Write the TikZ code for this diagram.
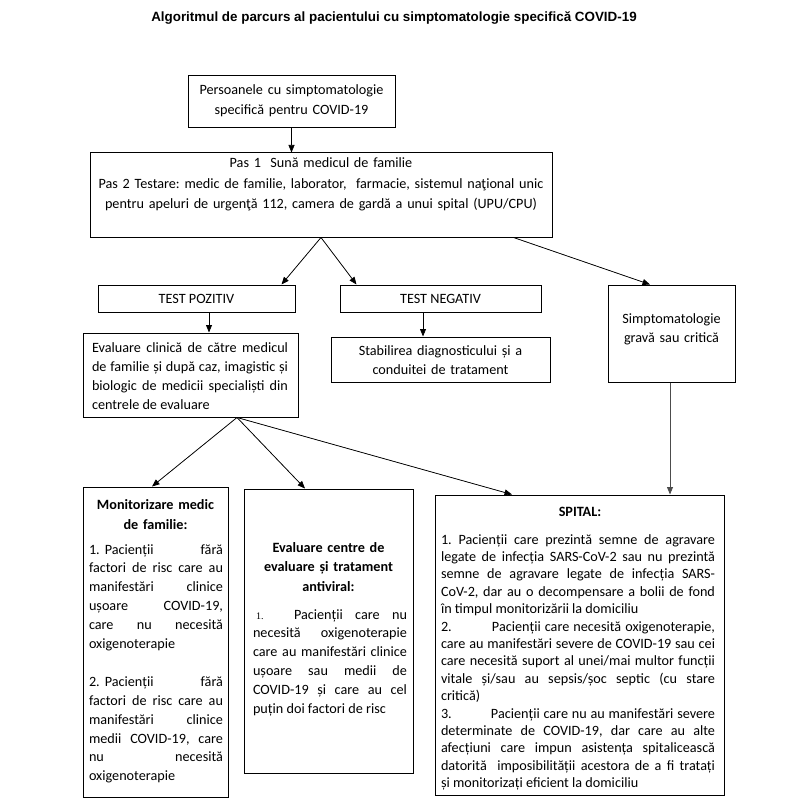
\documentclass[tikz,border=0pt]{standalone}
\usepackage{fontspec}
\setmainfont{Carlito}
\newfontfamily\arialfont{Liberation Sans}
\newfontfamily\timesfont{Liberation Serif}
\usetikzlibrary{arrows.meta,calc}
\frenchspacing
\begin{document}
\begin{tikzpicture}[x=1pt,y=-1pt,
  box/.style={draw=black, line width=1pt, fill=white, inner sep=0pt},
  txt/.style={inner sep=0pt, anchor=base, font=\fontsize{14.2}{19}\selectfont,
    execute at begin node={\tolerance=10000\hbadness=10000\frenchspacing\relax}},
  head/.style={txt, align=center, font=\bfseries\fontsize{14.2}{19.5}\selectfont},
  arr/.style={-{Triangle[length=7.5pt,width=6pt]}, line width=0.75pt, draw=black, fill=black}]
\useasboundingbox (0,0) rectangle (790,810);
\fill[white] (0,0) rectangle (790,810);

% title
\node[inner sep=0pt, anchor=base, font=\arialfont\bfseries\fontsize{13.4}{16}\selectfont] (title) at (394,22)
  {Algoritmul de parcurs al pacientului cu simptomatologie specifică COVID-19};

% boxes
\node[box, minimum width=207pt, minimum height=52pt] (b1) at (291.5,102) {};
\node[box, minimum width=462pt, minimum height=84pt] (b2) at (321,195) {};
\node[box, minimum width=197pt, minimum height=27pt] (tp) at (196.5,298.5) {};
\node[box, minimum width=201pt, minimum height=27pt] (tn) at (440.5,298.5) {};
\node[box, minimum width=127pt, minimum height=97pt] (si) at (671.5,333.5) {};
\node[box, minimum width=215pt, minimum height=84pt] (ev) at (190.5,375) {};
\node[box, minimum width=219pt, minimum height=45pt] (st) at (440.5,359.5) {};
\node[box, minimum width=145pt, minimum height=310pt] (mo) at (155.5,642) {};
\node[box, minimum width=169pt, minimum height=284pt] (ec) at (328.5,631) {};
\node[box, minimum width=289pt, minimum height=300pt] (sp) at (579.5,645) {};

% texts
\node[txt, align=center, text width=200pt, font=\fontsize{14.2}{20}\selectfont] (t1) at (291.5,95)
  {Persoanele cu simptomatologie\\ specifică pentru COVID-19};
\node[txt, align=center, text width=455pt, font=\fontsize{14.2}{20.5}\selectfont] (t2) at (321,168)
  {Pas 1\ \ Sună medicul de familie\\ Pas 2 Testare: medic de familie, laborator,\ \ farmacie, sistemul naţional unic\\ pentru apeluri de urgenţă 112, camera de gardă a unui spital (UPU/CPU)};
\node[txt] (ttp) at (196.5,303) {TEST POZITIV};
\node[txt] (ttn) at (440.5,303) {TEST NEGATIV};
\node[txt, align=center, text width=120pt] (tsi) at (671.5,323) {Simptomatologie\\ gravă sau critică};
\node[txt, align=justify, text width=196pt] (tev) at (190,352)
  {Evaluare clinică de către medicul\linebreak de familie și după caz, imagistic și\linebreak biologic de medicii specialiști din\linebreak centrele de evaluare};
\node[txt, align=center, text width=215pt] (tst) at (440.5,355)
  {Stabilirea diagnosticului și a\\ conduitei de tratament};

\node[head, text width=140pt, font=\bfseries\fontsize{14.2}{20}\selectfont] (tmoh) at (155.5,509)
  {Monitorizare medic\\ de familie:};
\node[txt, align=justify, text width=134pt, font=\fontsize{14.2}{18.9}\selectfont] (tmob) at (156,554)
  {1.\hspace{5pt}Pacienții fără\linebreak factori de risc care au\linebreak manifestări clinice\linebreak ușoare COVID-19,\linebreak care nu necesită\linebreak oxigenoterapie\par\vspace{18.9pt}%
   2.\hspace{5pt}Pacienții fără\linebreak factori de risc care au\linebreak manifestări clinice\linebreak medii COVID-19, care\linebreak nu necesită\linebreak oxigenoterapie};

\node[head, text width=165pt] (tech) at (328.5,552)
  {Evaluare centre de\\ evaluare și tratament\\ antiviral:};
\node[txt, align=justify, text width=154pt, font=\fontsize{14.2}{18.8}\selectfont] (tecb) at (330,619)
  {\hspace*{3pt}\makebox[38pt][l]{\timesfont\fontsize{10}{12}\selectfont 1.}Pacienții care nu\linebreak necesită oxigenoterapie\linebreak care au manifestări clinice\linebreak ușoare sau medii de\linebreak COVID-19 și care au cel\linebreak puțin doi factori de risc};

\node[head] (tsph) at (580,516) {SPITAL:};
\node[txt, align=justify, text width=274pt, font=\fontsize{14.2}{17.4}\selectfont] (tspb) at (578,544)
  {1. Pacienții care prezintă semne de agravare\linebreak legate de infecția SARS-CoV-2 sau nu prezintă\linebreak semne de agravare legate de infecția SARS-\linebreak CoV-2, dar au o decompensare a bolii de fond\linebreak în timpul monitorizării la domiciliu\par
   \makebox[51pt][l]{2.}Pacienții care necesită oxigenoterapie,\linebreak care au manifestări severe de COVID-19 sau cei\linebreak care necesită suport al unei/mai multor funcții\linebreak vitale și/sau au sepsis/șoc septic (cu stare\linebreak critică)\par
   \makebox[50pt][l]{3.}Pacienții care nu au manifestări severe\linebreak determinate de COVID-19, dar care au alte\linebreak afecțiuni care impun asistența spitalicească\linebreak datorită\ \ imposibilității acestora de a fi tratați\linebreak și monitorizați eficient la domiciliu};

% connectors
\draw[arr] (b1.south) -- (b1.south |- b2.north);
\draw[arr] (b2.south) -- ([xshift=-14pt]tp.north east);
\draw[arr] (b2.south) -- ([xshift=17pt]tn.north west);
\draw[arr] ([xshift=-39pt]b2.south east) -- ([xshift=-21.5pt]si.north);
\draw[arr] ([xshift=12.5pt]tp.south) -- ([xshift=12.5pt]tp.south |- ev.north);
\draw[arr] ([xshift=-17.5pt]tn.south) -- ([xshift=-17.5pt]tn.south |- st.north);
\draw[arr] ([xshift=46.5pt]ev.south) -- ([xshift=-3.5pt]mo.north);
\draw[arr] ([xshift=46.5pt]ev.south) -- ([xshift=-23.5pt]ec.north);
\draw[arr] ([xshift=46.5pt]ev.south) -- ([xshift=-67.5pt]sp.north);
\draw[arr, draw=black!70, fill=black!70] ([xshift=-1.5pt]si.south) -- ([xshift=-1.5pt]si.south |- sp.north);
\end{tikzpicture}
\end{document}
